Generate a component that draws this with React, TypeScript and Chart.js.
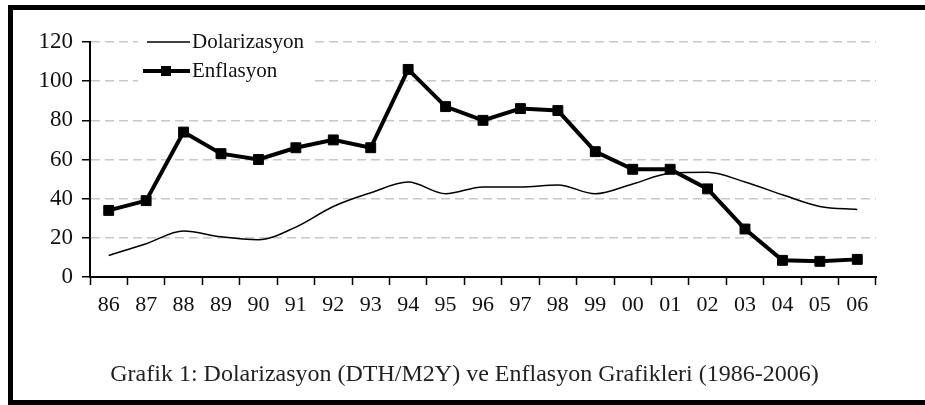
import React, { useEffect, useRef } from "react";
import { Chart, registerables } from "chart.js";

Chart.register(...registerables);

const years = ["86", "87", "88", "89", "90", "91", "92", "93", "94", "95", "96", "97", "98", "99", "00", "01", "02", "03", "04", "05", "06"];
const dolarizasyon = [11, 17, 23.5, 20.5, 19, 25.5, 36, 43, 48.5, 42.5, 46, 46, 47, 42.5, 47.5, 53, 53.5, 48.5, 42, 36, 34.5];
const enflasyon = [34, 39, 74, 63, 60, 66, 70, 66, 106, 87, 80, 86, 85, 64, 55, 55, 45, 24.5, 8.5, 8, 9];
const yTicks = [0, 20, 40, 60, 80, 100, 120];
const seriesNames = ["Dolarizasyon", "Enflasyon"];
const titleText = "Grafik 1: Dolarizasyon (DTH/M2Y) ve Enflasyon Grafikleri (1986-2006)";

const FONT = "'Liberation Serif', 'Times New Roman', serif";

const legendPlugin = {
  id: "inlineLegend",
  beforeDatasetsDraw(chart: any) {
    const ctx = chart.ctx;
    ctx.save();
    ctx.fillStyle = "#ffffff";
    ctx.fillRect(138, 30, 172, 52);
    ctx.strokeStyle = "#000";
    ctx.lineWidth = 1.5;
    ctx.beginPath();
    ctx.moveTo(147, 42);
    ctx.lineTo(190, 42);
    ctx.stroke();
    ctx.lineWidth = 4;
    ctx.beginPath();
    ctx.moveTo(143, 71);
    ctx.lineTo(190, 71);
    ctx.stroke();
    ctx.fillStyle = "#000";
    ctx.fillRect(161, 66, 10, 10);
    ctx.fillStyle = "#111";
    ctx.font = "21px " + FONT;
    ctx.textBaseline = "middle";
    ctx.textAlign = "left";
    ctx.fillText(seriesNames[0], 192, 42);
    ctx.fillText(seriesNames[1], 192, 71);
    ctx.restore();
  },
};

export default function App() {
  const ref = useRef<HTMLCanvasElement | null>(null);
  useEffect(() => {
    if (!ref.current) return;
    const chart = new Chart(ref.current, {
      type: "line",
      data: {
        labels: years,
        datasets: [
          {
            label: seriesNames[0],
            data: dolarizasyon,
            borderColor: "#000",
            borderWidth: 1.5,
            pointRadius: 0,
            tension: 0.4,
            cubicInterpolationMode: "monotone",
            fill: false,
          },
          {
            label: seriesNames[1],
            data: enflasyon,
            borderColor: "#000",
            backgroundColor: "#000",
            borderWidth: 4,
            pointStyle: "rect",
            pointRadius: 7,
            pointBorderWidth: 1,
            tension: 0,
            fill: false,
          },
        ],
      },
      options: {
        animation: false,
        responsive: false,
        maintainAspectRatio: false,
        layout: { padding: { left: 0, top: 42, right: 49, bottom: 0 } },
        plugins: {
          legend: { display: false },
          title: { display: false },
          tooltip: { enabled: false },
        },
        scales: {
          x: {
            type: "category",
            offset: true,
            grid: {
              offset: true,
              drawOnChartArea: false,
              drawTicks: true,
              tickLength: 8,
              tickColor: "#000",
              tickWidth: 1.5,
            },
            border: { display: true, color: "#000", width: 2 },
            ticks: {
              color: "#111",
              font: { family: FONT, size: 22 },
              padding: 7,
              maxRotation: 0,
              autoSkip: false,
            },
            afterFit: (s: any) => {
              s.height = 128;
            },
          },
          y: {
            min: 0,
            max: 120,
            afterBuildTicks: (s: any) => {
              s.ticks = yTicks.map((v) => ({ value: v }));
            },
            grid: {
              color: (c: any) => (c.tick && c.tick.value === 0 ? "rgba(0,0,0,0)" : "#c8c8c8"),
              lineWidth: 1.5,
              drawTicks: true,
              tickLength: 8,
              tickColor: "#000",
              tickWidth: 1.5,
              tickBorderDash: [],
            },
            border: { display: true, color: "#000", width: 2, dash: [9, 5] },
            ticks: {
              color: "#111",
              font: { family: FONT, size: 23 },
              padding: 9,
            },
            afterFit: (s: any) => {
              s.width = 90;
            },
          },
        },
      },
      plugins: [legendPlugin],
    } as any);
    return () => chart.destroy();
  }, []);

  return (
    <div style={{ position: "fixed", left: 0, top: 0, width: 925, height: 405, overflow: "hidden", background: "#fff" }}>
      <div
        style={{
          position: "absolute",
          left: 8,
          top: 5,
          width: 1000,
          height: 400,
          boxSizing: "border-box",
          border: "5px solid #000",
        }}
      />
      <canvas ref={ref} width={925} height={405} style={{ position: "absolute", left: 0, top: 0, width: 925, height: 405 }} />
      <div
        style={{
          position: "absolute",
          left: 0,
          width: 929,
          top: 361,
          textAlign: "center",
          fontFamily: FONT,
          fontSize: 24,
          lineHeight: "24px",
          color: "#222",
          whiteSpace: "nowrap",
        }}
      >
        {titleText}
      </div>
    </div>
  );
}
